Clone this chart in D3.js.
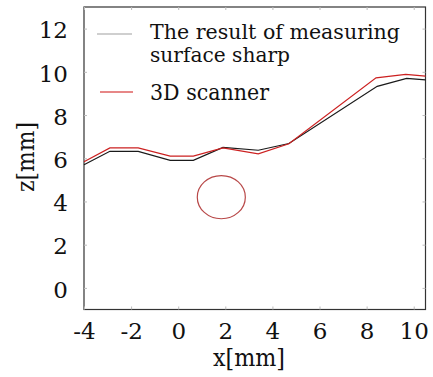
<!DOCTYPE html>
<html>
<head>
<meta charset="utf-8">
<script src="https://cdn.jsdelivr.net/npm/d3@7"></script>
<style>
  html, body { margin: 0; padding: 0; background: #fff; }
  svg { display: block; }
</style>
</head>
<body>
<svg id="chart" width="433" height="377"></svg>
<script>
// ---- data ----
const xTicks = [-4, -2, 0, 2, 4, 6, 8, 10];
const yTicks = [0, 2, 4, 6, 8, 10, 12];

const measuredX = [-4, -2.9, -1.7, -0.34, 0.64, 1.9, 3.4, 4.7, 8.45, 9.7, 10.5];
const measuredZ = [5.7, 6.32, 6.32, 5.9, 5.9, 6.5, 6.37, 6.68, 9.33, 9.7, 9.63];

const scannerX = [-4, -2.9, -1.7, -0.34, 0.64, 1.9, 3.4, 4.7, 8.4, 9.66, 10.5];
const scannerZ = [5.84, 6.48, 6.48, 6.1, 6.1, 6.48, 6.2, 6.67, 9.72, 9.88, 9.8];

const circleCenter = [1.83, 4.2];
const circleRadius = [1.02, 1.0];

const legendLabels = [["The result of measuring", "surface sharp"], ["3D scanner"]];
const legendColors = ["#a0a0a0", "#d01010"];

// ---- layout ----
const FONT = "'DejaVu Serif', serif";
const svg = d3.select("#chart");
const mLeft = 84, mRight = 425.5, mTop = 7, mBottom = 309.5;

const x = d3.scaleLinear().domain([-4, 10.5]).range([mLeft, mRight]);
const y = d3.scaleLinear().domain([-1, 13]).range([mBottom, mTop]);

svg.append("rect")
  .attr("x", mLeft).attr("y", mTop)
  .attr("width", mRight - mLeft).attr("height", mBottom - mTop)
  .attr("fill", "none").attr("stroke", "#333").attr("stroke-width", 1.2);

const tickColor = "#bbb";
const fmt = d => String(d);
const gx = svg.append("g").attr("transform", `translate(0,${mBottom})`)
  .call(d3.axisBottom(x).tickValues(xTicks).tickSize(-3).tickFormat(fmt));
const gy = svg.append("g").attr("transform", `translate(${mLeft},0)`)
  .call(d3.axisLeft(y).tickValues(yTicks).tickSize(-3).tickPadding(16).tickFormat(fmt));
const gxt = svg.append("g").attr("transform", `translate(0,${mTop})`)
  .call(d3.axisTop(x).tickValues(xTicks).tickSize(-3).tickFormat(""));
const gyr = svg.append("g").attr("transform", `translate(${mRight},0)`)
  .call(d3.axisRight(y).tickValues(yTicks).tickSize(-3).tickFormat(""));

[gx, gy, gxt, gyr].forEach(g => {
  g.attr("font-family", null).attr("font-size", null);
  g.select(".domain").remove();
  g.selectAll(".tick line").attr("stroke", tickColor);
});
[gx, gy].forEach(g => {
  g.selectAll(".tick text").style("font-family", FONT).style("font-size", "23px").attr("fill", "#111");
});
gx.selectAll(".tick text").attr("y", 29.5).attr("dy", 0);
gy.selectAll(".tick text").attr("dy", "0.4em");

svg.append("text").attr("x", 249).attr("y", 366)
  .style("font-family", FONT).style("font-size", "24px").attr("fill", "#111")
  .attr("textLength", 72).attr("lengthAdjust", "spacingAndGlyphs")
  .attr("text-anchor", "middle").text("x[mm]");
svg.append("text")
  .attr("transform", `translate(34,157) rotate(-90)`)
  .style("font-family", FONT).style("font-size", "24px").attr("fill", "#111")
  .attr("textLength", 70).attr("lengthAdjust", "spacingAndGlyphs")
  .attr("text-anchor", "middle").text("z[mm]");

const line = d3.line().x(d => x(d[0])).y(d => y(d[1]));
svg.append("path")
  .datum(measuredX.map((v, i) => [v, measuredZ[i]]))
  .attr("d", line).attr("fill", "none").attr("stroke", "#1a1a1a").attr("stroke-width", 1.2);
svg.append("path")
  .datum(scannerX.map((v, i) => [v, scannerZ[i]]))
  .attr("d", line).attr("fill", "none").attr("stroke", "#cc2020").attr("stroke-width", 1.2);

svg.append("ellipse")
  .attr("cx", x(circleCenter[0])).attr("cy", y(circleCenter[1]))
  .attr("rx", x(circleCenter[0] + circleRadius[0]) - x(circleCenter[0]))
  .attr("ry", y(circleCenter[1]) - y(circleCenter[1] + circleRadius[1]))
  .attr("fill", "none").attr("stroke", "#b84848").attr("stroke-width", 1.2);

// legend
const lg = svg.append("g");
const legendRows = [
  { ly: 34, x1: 97, x2: 132, ty: [38.5, 61.5], widths: [250, 140], fs: 19.5 },
  { ly: 92, x1: 100, x2: 133, ty: [100], widths: [119], fs: 22 }
];
legendLabels.forEach((lines, i) => {
  const r = legendRows[i];
  lg.append("line").attr("x1", r.x1).attr("x2", r.x2).attr("y1", r.ly).attr("y2", r.ly)
    .attr("stroke", legendColors[i]).attr("stroke-width", 1.2);
  lines.forEach((s, j) => {
    lg.append("text").attr("x", 150).attr("y", r.ty[j])
      .style("font-family", FONT).style("font-size", r.fs + "px").attr("fill", "#111")
      .attr("textLength", r.widths[j]).attr("lengthAdjust", "spacingAndGlyphs").text(s);
  });
});
</script>
</body>
</html>
